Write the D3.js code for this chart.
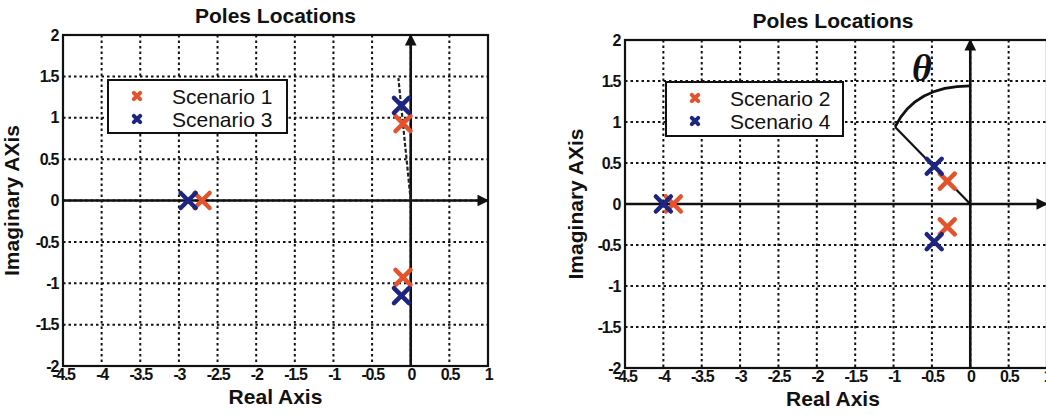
<!DOCTYPE html>
<html>
<head>
<meta charset="utf-8">
<script src="https://cdn.jsdelivr.net/npm/d3@7"></script>
<style>
  body { margin: 0; background: #fff; }
  svg { display: block; }
  text { font-family: 'Liberation Sans', Arial, sans-serif; fill: #111; }
</style>
</head>
<body>
<div id="chart"></div>
<script>
'use strict';

// axis ticks
var xTicks = [ -4.5, -4, -3.5, -3, -2.5, -2, -1.5, -1, -0.5, 0, 0.5, 1 ];
var yTicks = [ -2, -1.5, -1, -0.5, 0, 0.5, 1, 1.5, 2 ];

// pole locations (real, imaginary)
var scenario1 = [ [ -2.7, 0 ], [ -0.1, 0.93 ], [ -0.1, -0.93 ] ];
var scenario3 = [ [ -2.88, 0 ], [ -0.12, 1.15 ], [ -0.12, -1.15 ] ];
var scenario2 = [ [ -3.87, 0 ], [ -0.3, 0.28 ], [ -0.3, -0.28 ] ];
var scenario4 = [ [ -4, 0 ], [ -0.47, 0.46 ], [ -0.47, -0.46 ] ];

// annotation guides, in data units
var dampingLineLeft = [ [ 0, 0 ], [ -0.16, 1.48 ] ];
var dampingLineRight = [ [ 0, 0 ], [ -0.98, 0.94 ] ];
var thetaArc = [ [ -0.98, 0.94 ], [ -0.72, 1.44 ], [ 0, 1.44 ] ];
var thetaPos = [ -0.63, 1.5 ];

var orange = '#e5532c',
    navy = '#1d2580';

var svg = d3.select( '#chart' )
  .append( 'svg' )
    .attr( 'width', 1046 )
    .attr( 'height', 415 );

var defs = svg.append( 'defs' );
defs.append( 'marker' )
    .attr( 'id', 'arrow' )
    .attr( 'viewBox', '0 0 10 10' )
    .attr( 'refX', 9 )
    .attr( 'refY', 5 )
    .attr( 'markerWidth', 6.5 )
    .attr( 'markerHeight', 4.5 )
    .attr( 'markerUnits', 'strokeWidth' )
    .attr( 'orient', 'auto' )
  .append( 'path' )
    .attr( 'd', 'M0,0 L10,5 L0,10 z' )
    .attr( 'fill', '#111' );

function drawPanel( options ) {
  var left = options.left, right = options.right,
      top = options.top, bottom = options.bottom;

  var x = d3.scaleLinear().domain( [ -4.5, 1 ] ).range( [ left, right ] );
  var y = d3.scaleLinear().domain( [ -2, 2 ] ).range( [ bottom, top ] );

  var g = svg.append( 'g' );

  // dotted grid
  g.append( 'g' )
    .selectAll( 'line' )
      .data( xTicks.slice( 1, -1 ) )
    .enter().append( 'line' )
      .attr( 'x1', function( d ) { return x( d ); } )
      .attr( 'x2', function( d ) { return x( d ); } )
      .attr( 'y1', top )
      .attr( 'y2', bottom )
      .attr( 'stroke', '#111' )
      .attr( 'stroke-width', 2 )
      .attr( 'stroke-dasharray', '2.5,3' );

  g.append( 'g' )
    .selectAll( 'line' )
      .data( yTicks.slice( 1, -1 ) )
    .enter().append( 'line' )
      .attr( 'x1', left )
      .attr( 'x2', right )
      .attr( 'y1', function( d ) { return y( d ); } )
      .attr( 'y2', function( d ) { return y( d ); } )
      .attr( 'stroke', '#111' )
      .attr( 'stroke-width', 2 )
      .attr( 'stroke-dasharray', '2.5,3' );

  // frame
  g.append( 'rect' )
      .attr( 'x', left )
      .attr( 'y', top )
      .attr( 'width', right - left )
      .attr( 'height', bottom - top )
      .attr( 'fill', 'none' )
      .attr( 'stroke', '#111' )
      .attr( 'stroke-width', 2.2 );

  // axes
  var xAxis = g.append( 'g' )
      .attr( 'transform', 'translate(0,' + bottom + ')' )
      .call( d3.axisBottom( x ).tickValues( xTicks ).tickSize( 0 ).tickPadding( 3 )
        .tickFormat( function( d ) { return d; } ) );
  var yAxis = g.append( 'g' )
      .attr( 'transform', 'translate(' + left + ',0)' )
      .call( d3.axisLeft( y ).tickValues( yTicks ).tickSize( 0 ).tickPadding( 5 )
        .tickFormat( function( d ) { return d; } ) );
  [ xAxis, yAxis ].forEach( function( a ) {
    a.select( '.domain' ).remove();
    a.selectAll( 'text' )
        .style( 'font-size', '16px' )
        .style( 'font-weight', 'bold' )
        .style( 'letter-spacing', '-1.3px' )
        .attr( 'fill', '#111' );
  } );

  // real and imaginary axes with arrows
  g.append( 'line' )
      .attr( 'x1', x( -4.5 ) )
      .attr( 'x2', x( 1 ) )
      .attr( 'y1', y( 0 ) )
      .attr( 'y2', y( 0 ) )
      .attr( 'stroke', '#111' )
      .attr( 'stroke-width', 2.6 )
      .attr( 'marker-end', 'url(#arrow)' );
  g.append( 'line' )
      .attr( 'x1', x( 0 ) )
      .attr( 'x2', x( 0 ) )
      .attr( 'y1', y( -2 ) )
      .attr( 'y2', y( 2 ) )
      .attr( 'stroke', '#111' )
      .attr( 'stroke-width', 2.6 )
      .attr( 'marker-end', 'url(#arrow)' );

  var line = d3.line()
      .x( function( d ) { return x( d[ 0 ] ); } )
      .y( function( d ) { return y( d[ 1 ] ); } );

  if ( options.guideDashed ) {
    g.append( 'path' )
        .attr( 'd', line( options.guideDashed ) )
        .attr( 'fill', 'none' )
        .attr( 'stroke', '#222' )
        .attr( 'stroke-width', 2.2 )
        .attr( 'stroke-dasharray', '4,2' );
  }
  if ( options.guideSolid ) {
    g.append( 'path' )
        .attr( 'd', line( options.guideSolid ) )
        .attr( 'fill', 'none' )
        .attr( 'stroke', '#111' )
        .attr( 'stroke-width', 2.2 );
    var a = options.arc;
    g.append( 'path' )
        .attr( 'd', 'M' + x( a[ 0 ][ 0 ] ) + ',' + y( a[ 0 ][ 1 ] ) +
          'Q' + x( a[ 1 ][ 0 ] ) + ',' + y( a[ 1 ][ 1 ] ) +
          ' ' + x( a[ 2 ][ 0 ] ) + ',' + y( a[ 2 ][ 1 ] ) )
        .attr( 'fill', 'none' )
        .attr( 'stroke', '#111' )
        .attr( 'stroke-width', 2.8 );
    g.append( 'text' )
        .attr( 'x', x( options.theta[ 0 ] ) )
        .attr( 'y', y( options.theta[ 1 ] ) )
        .attr( 'text-anchor', 'middle' )
        .style( 'font-family', "'Liberation Serif', 'DejaVu Serif', serif" )
        .style( 'font-size', '38px' )
        .style( 'font-weight', 'bold' )
        .style( 'font-style', 'italic' )
        .text( '\u03B8' );
  }

  // pole markers
  function cross( sel, size, width ) {
    sel.append( 'path' )
        .attr( 'd', 'M' + -size + ',' + -size + 'L' + size + ',' + size +
          'M' + -size + ',' + size + 'L' + size + ',' + -size )
        .attr( 'stroke-width', width )
        .attr( 'stroke-linecap', 'round' );
  }

  options.series.forEach( function( s ) {
    g.append( 'g' )
        .attr( 'stroke', s.color )
      .selectAll( 'g' )
        .data( s.values )
      .enter().append( 'g' )
        .attr( 'transform', function( d ) {
          return 'translate(' + x( d[ 0 ] ) + ',' + y( d[ 1 ] ) + ')';
        } )
        .call( cross, 7.5, 4.5 );
  } );

  // legend
  var lg = options.legend;
  g.append( 'rect' )
      .attr( 'x', lg.x )
      .attr( 'y', lg.y )
      .attr( 'width', lg.w )
      .attr( 'height', lg.h )
      .attr( 'fill', '#fff' )
      .attr( 'stroke', '#111' )
      .attr( 'stroke-width', 2 );
  options.series.forEach( function( s, i ) {
    var row = g.append( 'g' )
        .attr( 'transform', 'translate(' + ( lg.x + 29 ) + ',' + ( lg.y + 16 + i * 23 ) + ')' );
    row.append( 'g' )
        .attr( 'stroke', s.color )
        .call( cross, 3.2, 4 );
    row.append( 'text' )
        .attr( 'x', 35 )
        .attr( 'y', 7.5 )
        .style( 'font-size', '21px' )
        .text( s.name );
  } );

  // titles
  g.append( 'text' )
      .attr( 'x', ( left + right ) / 2 - options.titleShift )
      .attr( 'y', top - 12 )
      .attr( 'text-anchor', 'middle' )
      .style( 'font-size', '21px' )
      .style( 'font-weight', 'bold' )
      .text( 'Poles Locations' );
  g.append( 'text' )
      .attr( 'x', ( left + right ) / 2 - options.titleShift )
      .attr( 'y', bottom + 38 )
      .attr( 'text-anchor', 'middle' )
      .style( 'font-size', '21px' )
      .style( 'font-weight', 'bold' )
      .text( 'Real Axis' );
  g.append( 'text' )
      .attr( 'transform', 'translate(' + ( left - options.yLabelGap ) + ',' +
        ( ( top + bottom ) / 2 ) + ') rotate(-90)' )
      .attr( 'text-anchor', 'middle' )
      .style( 'font-size', '21px' )
      .style( 'font-weight', 'bold' )
      .text( 'Imaginary AXis' );
}

drawPanel( {
  left: 63, right: 488, top: 35, bottom: 366,
  titleShift: 0, yLabelGap: 44,
  series: [
    { name: 'Scenario 1', color: orange, values: scenario1 },
    { name: 'Scenario 3', color: navy, values: scenario3 }
  ],
  legend: { x: 108, y: 80, w: 179, h: 53 },
  guideDashed: dampingLineLeft
} );

drawPanel( {
  left: 625, right: 1047, top: 40, bottom: 368,
  titleShift: 3, yLabelGap: 42,
  series: [
    { name: 'Scenario 2', color: orange, values: scenario2 },
    { name: 'Scenario 4', color: navy, values: scenario4 }
  ],
  legend: { x: 666, y: 82, w: 177, h: 54 },
  guideSolid: dampingLineRight,
  arc: thetaArc,
  theta: thetaPos
} );
</script>
</body>
</html>
